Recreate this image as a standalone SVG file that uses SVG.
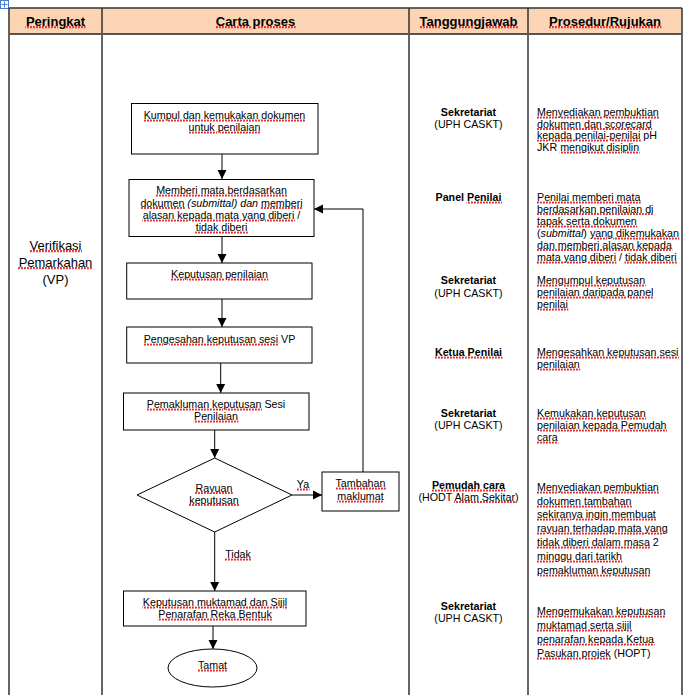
<svg xmlns="http://www.w3.org/2000/svg" width="687" height="695" viewBox="0 0 687 695">
<style>
text{font-family:"Liberation Sans",Arial,sans-serif;fill:#000}
.h{font-size:13px;font-weight:bold;text-anchor:middle}
.t{font-size:10.7px}
.c{text-anchor:middle}
.b{font-weight:bold}
.lv{font-size:13px;text-anchor:middle}
.sp{fill:url(#wave);stroke:url(#wave);stroke-width:0.9;text-decoration:underline}
.sp tspan{fill:#000;stroke:none}
.box{fill:#fff;stroke:#000;stroke-width:1}
.grid{stroke:#333;stroke-width:1.5;fill:none}
.con{stroke:#000;stroke-width:1;fill:none}
</style>
<defs>
<pattern id="wave" patternUnits="userSpaceOnUse" width="3" height="4">
<rect x="0" y="0" width="1.8" height="4" fill="#e03030"/>
</pattern>
<marker id="ah" markerUnits="userSpaceOnUse" markerWidth="10" markerHeight="10" refX="9" refY="5" orient="auto">
<path d="M0,0.5 L9,5 L0,9.5 Z" fill="#000"/>
</marker>
</defs>
<rect width="687" height="695" fill="#fff"/>
<g id="handle">
<rect x="0.5" y="0.5" width="8" height="8" fill="#fff" stroke="#4a7fd0" stroke-width="1"/>
<path d="M4.5,1.5 V7.5 M1.5,4.5 H7.5" stroke="#4a7fd0" stroke-width="1"/>
</g>
<g id="table">
<rect x="9" y="8" width="673" height="26" fill="#fbd4b4"/>
<path class="grid" d="M9,8 H682 M9,8 V695 M682,8 V695 M102,8 V695 M409,8 V695 M528,8 V695"/>
<path d="M9,34 H682" stroke="#555" stroke-width="2.2"/>
<text class="h" x="55.5" y="25.5"><tspan class="sp"><tspan>Peringkat</tspan></tspan></text>
<text class="h" x="255.5" y="25.5"><tspan class="sp"><tspan>Carta proses</tspan></tspan></text>
<text class="h" x="468.5" y="25.5"><tspan class="sp"><tspan>Tanggungjawab</tspan></tspan></text>
<text class="h" x="605" y="25.5"><tspan class="sp"><tspan>Prosedur/Rujukan</tspan></tspan></text>
</g>
<g id="level">
<text class="lv" x="55.5" y="249.5"><tspan class="sp"><tspan>Verifikasi</tspan></tspan></text>
<text class="lv" x="55.5" y="266.5"><tspan class="sp"><tspan>Pemarkahan</tspan></tspan></text>
<text class="lv" x="55.5" y="284">(VP)</text>
</g>
<g id="connectors">
<path class="con" d="M222,154 V179" marker-end="url(#ah)"/>
<path class="con" d="M222,237 V263" marker-end="url(#ah)"/>
<path class="con" d="M222,299 V327" marker-end="url(#ah)"/>
<path class="con" d="M220.7,363 V393" marker-end="url(#ah)"/>
<path class="con" d="M214.7,430 V458" marker-end="url(#ah)"/>
<path class="con" d="M214.7,532 V591" marker-end="url(#ah)"/>
<path class="con" d="M213,626 V649" marker-end="url(#ah)"/>
<path class="con" d="M292,495 H322" marker-end="url(#ah)"/>
<path class="con" d="M363,472 V209 H314" marker-end="url(#ah)"/>
<text class="t c" x="303" y="488"><tspan class="sp"><tspan>Ya</tspan></tspan></text>
<text class="t c" x="238" y="558"><tspan class="sp"><tspan>Tidak</tspan></tspan></text>
</g>
<g id="n1">
<rect class="box" x="131.5" y="103.5" width="186.5" height="50.5"/>
<text class="t c" x="224.5" y="119"><tspan class="sp"><tspan>Kumpul dan kemukakan dokumen</tspan></tspan></text>
<text class="t c" x="224.5" y="131"><tspan class="sp"><tspan>untuk penilaian</tspan></tspan></text>
</g>
<g id="n2">
<rect class="box" x="129" y="179.5" width="185" height="57"/>
<text class="t c" x="221.5" y="194"><tspan class="sp"><tspan>Memberi mata berdasarkan</tspan></tspan></text>
<text class="t c" x="221.5" y="206.5"><tspan class="sp"><tspan>dokumen</tspan></tspan> <tspan font-style="italic">(submittal) dan</tspan> <tspan class="sp"><tspan>memberi</tspan></tspan></text>
<text class="t c" x="221.5" y="219"><tspan class="sp"><tspan>alasan kepada mata yang diberi</tspan></tspan> /</text>
<text class="t c" x="221.5" y="231"><tspan class="sp"><tspan>tidak diberi</tspan></tspan></text>
</g>
<g id="n3">
<rect class="box" x="126.7" y="263" width="185.3" height="36"/>
<text class="t c" x="219.5" y="278"><tspan class="sp"><tspan>Keputusan penilaian</tspan></tspan></text>
</g>
<g id="n4">
<rect class="box" x="126.7" y="327" width="185.3" height="36"/>
<text class="t c" x="219.5" y="343"><tspan class="sp"><tspan>Pengesahan keputusan sesi</tspan></tspan> VP</text>
</g>
<g id="n5">
<rect class="box" x="123.5" y="393" width="185.5" height="37"/>
<text class="t c" x="216" y="408"><tspan class="sp"><tspan>Pemakluman keputusan</tspan></tspan> Sesi</text>
<text class="t c" x="216" y="420"><tspan class="sp"><tspan>Penilaian</tspan></tspan></text>
</g>
<g id="n6">
<path class="box" d="M214.7,458 L292,495 L214.7,532 L137,495 Z"/>
<text class="t c" x="214" y="491.5"><tspan class="sp"><tspan>Rayuan</tspan></tspan></text>
<text class="t c" x="214" y="503.5"><tspan class="sp"><tspan>keputusan</tspan></tspan></text>
</g>
<g id="n7">
<rect class="box" x="322" y="472" width="77" height="39"/>
<text class="t c" x="360.5" y="487"><tspan class="sp"><tspan>Tambahan</tspan></tspan></text>
<text class="t c" x="360.5" y="500"><tspan class="sp"><tspan>maklumat</tspan></tspan></text>
</g>
<g id="n8">
<rect class="box" x="123.5" y="591" width="182.5" height="35"/>
<text class="t c" x="215" y="606"><tspan class="sp"><tspan>Keputusan muktamad dan Sijil</tspan></tspan></text>
<text class="t c" x="215" y="618"><tspan class="sp"><tspan>Penarafan Reka Bentuk</tspan></tspan></text>
</g>
<g id="n9">
<ellipse class="box" cx="212.5" cy="668" rx="44.5" ry="19"/>
<text class="t c" x="212.5" y="669"><tspan class="sp"><tspan>Tamat</tspan></tspan></text>
</g>
<g id="resp">
<text class="t c b" x="468.5" y="116">Sekretariat</text>
<text class="t c" x="468.5" y="127.5">(UPH CASKT)</text>
<text class="t c b" x="468.5" y="201">Panel <tspan class="sp"><tspan>Penilai</tspan></tspan></text>
<text class="t c b" x="468.5" y="284">Sekretariat</text>
<text class="t c" x="468.5" y="296.5">(UPH CASKT)</text>
<text class="t c b" x="468.5" y="356"><tspan class="sp"><tspan>Ketua Penilai</tspan></tspan></text>
<text class="t c b" x="468.5" y="417">Sekretariat</text>
<text class="t c" x="468.5" y="428.5">(UPH CASKT)</text>
<text class="t c b" x="468.5" y="489"><tspan class="sp"><tspan>Pemudah cara</tspan></tspan></text>
<text class="t c" x="468.5" y="500.5">(HODT <tspan class="sp"><tspan>Alam Sekitar</tspan></tspan>)</text>
<text class="t c b" x="468.5" y="610">Sekretariat</text>
<text class="t c" x="468.5" y="621.5">(UPH CASKT)</text>
</g>
<g id="proc">
<text class="t" x="537" y="116"><tspan class="sp"><tspan>Menyediakan pembuktian</tspan></tspan></text>
<text class="t" x="537" y="127.5"><tspan class="sp"><tspan>dokumen dan scorecard</tspan></tspan></text>
<text class="t" x="537" y="139"><tspan class="sp"><tspan>kepada penilai-penilai</tspan></tspan> pH</text>
<text class="t" x="537" y="151">JKR <tspan class="sp"><tspan>mengikut disiplin</tspan></tspan></text>
<text class="t" x="537" y="201"><tspan class="sp"><tspan>Penilai memberi mata</tspan></tspan></text>
<text class="t" x="537" y="212.5"><tspan class="sp"><tspan>berdasarkan penilaian di</tspan></tspan></text>
<text class="t" x="537" y="225"><tspan class="sp"><tspan>tapak serta dokumen</tspan></tspan></text>
<text class="t" x="537" y="237">(<tspan font-style="italic">submittal</tspan>) <tspan class="sp"><tspan>yang dikemukakan</tspan></tspan></text>
<text class="t" x="537" y="248.5"><tspan class="sp"><tspan>dan memberi alasan kepada</tspan></tspan></text>
<text class="t" x="537" y="261"><tspan class="sp"><tspan>mata yang diberi</tspan></tspan> / <tspan class="sp"><tspan>tidak diberi</tspan></tspan></text>
<text class="t" x="537" y="284"><tspan class="sp"><tspan>Mengumpul keputusan</tspan></tspan></text>
<text class="t" x="537" y="296"><tspan class="sp"><tspan>penilaian daripada panel</tspan></tspan></text>
<text class="t" x="537" y="308"><tspan class="sp"><tspan>penilai</tspan></tspan></text>
<text class="t" x="537" y="356"><tspan class="sp"><tspan>Mengesahkan keputusan sesi</tspan></tspan></text>
<text class="t" x="537" y="368"><tspan class="sp"><tspan>penilaian</tspan></tspan></text>
<text class="t" x="537" y="417"><tspan class="sp"><tspan>Kemukakan keputusan</tspan></tspan></text>
<text class="t" x="537" y="429"><tspan class="sp"><tspan>penilaian kepada Pemudah</tspan></tspan></text>
<text class="t" x="537" y="441"><tspan class="sp"><tspan>cara</tspan></tspan></text>
<text class="t" x="537" y="491"><tspan class="sp"><tspan>Menyediakan pembuktian</tspan></tspan></text>
<text class="t" x="537" y="505"><tspan class="sp"><tspan>dokumen tambahan</tspan></tspan></text>
<text class="t" x="537" y="518"><tspan class="sp"><tspan>sekiranya ingin membuat</tspan></tspan></text>
<text class="t" x="537" y="532"><tspan class="sp"><tspan>rayuan terhadap mata yang</tspan></tspan></text>
<text class="t" x="537" y="546"><tspan class="sp"><tspan>tidak diberi dalam masa</tspan></tspan> 2</text>
<text class="t" x="537" y="560"><tspan class="sp"><tspan>minggu dari tarikh</tspan></tspan></text>
<text class="t" x="537" y="574"><tspan class="sp"><tspan>pemakluman keputusan</tspan></tspan></text>
<text class="t" x="537" y="615"><tspan class="sp"><tspan>Mengemukakan keputusan</tspan></tspan></text>
<text class="t" x="537" y="629"><tspan class="sp"><tspan>muktamad serta sijil</tspan></tspan></text>
<text class="t" x="537" y="643"><tspan class="sp"><tspan>penarafan kepada Ketua</tspan></tspan></text>
<text class="t" x="537" y="657"><tspan class="sp"><tspan>Pasukan projek</tspan></tspan> (HOPT)</text>
</g>
</svg>
